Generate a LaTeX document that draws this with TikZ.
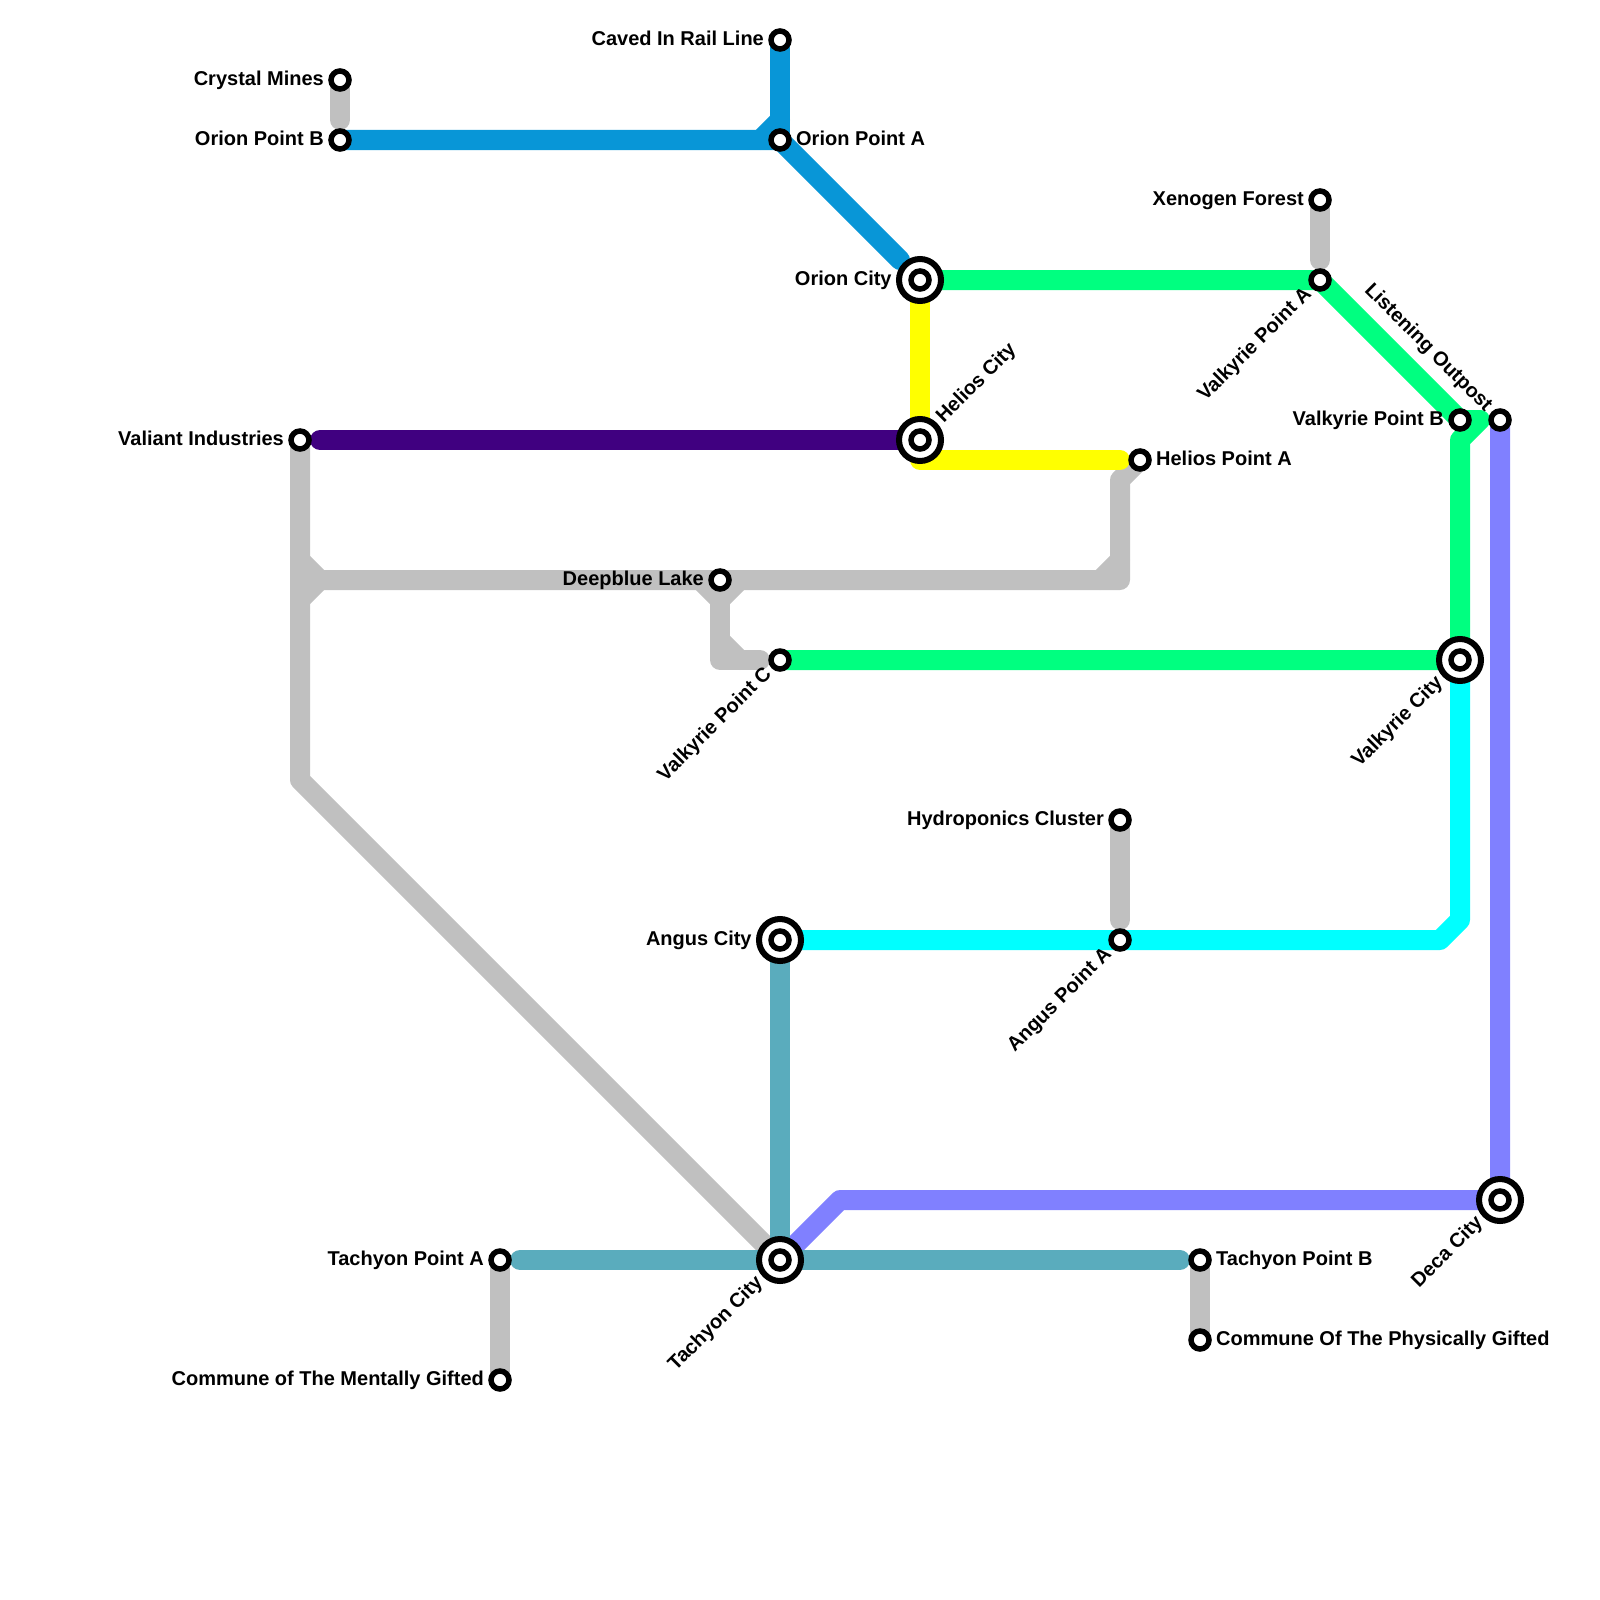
\documentclass[tikz,border=0pt]{standalone}
\usepackage{fontspec}
\setmainfont{Liberation Sans}
\usetikzlibrary{positioning,backgrounds}
\definecolor{lnBlue}{HTML}{0896D7}
\definecolor{lnGreen}{HTML}{00FF80}
\definecolor{lnViolet}{HTML}{400080}
\definecolor{lnTeal}{HTML}{5AACBD}
\definecolor{lnPeri}{HTML}{8080FF}
\definecolor{lnGrey}{HTML}{C0C0C0}
\definecolor{lnYellow}{HTML}{FFFF00}
\definecolor{lnCyan}{HTML}{00FFFF}
\begin{document}
\begin{tikzpicture}[x=10pt,y=-10pt,node distance=0pt,
  font=\fontsize{10}{11}\selectfont\bfseries,
  stn/.style={circle,draw=black,fill=white,line width=2.75pt,minimum size=9pt,inner sep=0pt},
  city/.style={circle,draw=black,fill=white,line width=3pt,minimum size=21pt,inner sep=0pt,label={[stn]center:}},
  txt/.style={inner sep=2pt,text=black,text height=7.2pt,text depth=2pt},
  ln/.style={line width=10pt,line cap=round,line join=round}]
  \useasboundingbox (0,0) rectangle (80,80);
  % stations
  \node[stn] (crystal) at (17,4) {};
  \node[stn] (orionb) at (17,7) {};
  \node[stn] (caved) at (39,2) {};
  \node[stn] (oriona) at (39,7) {};
  \node[city] (orion) at (46,14) {};
  \node[city] (helios) at (46,22) {};
  \node[stn] (heliosa) at (57,23) {};
  \node[stn] (valiant) at (15,22) {};
  \node[stn] (deepblue) at (36,29) {};
  \node[stn] (xenogen) at (66,10) {};
  \node[stn] (valka) at (66,14) {};
  \node[stn] (valkb) at (73,21) {};
  \node[stn] (listen) at (75,21) {};
  \node[stn] (valkc) at (39,33) {};
  \node[city] (valk) at (73,33) {};
  \node[stn] (hydro) at (56,41) {};
  \node[stn] (angusa) at (56,47) {};
  \node[city] (angus) at (39,47) {};
  \node[city] (tachyon) at (39,63) {};
  \node[city] (deca) at (75,60) {};
  \node[stn] (tacha) at (25,63) {};
  \node[stn] (tachb) at (60,63) {};
  \node[stn] (physic) at (60,67) {};
  \node[stn] (mental) at (25,69) {};
  % labels
  \node[txt,left=of crystal] (crystal-t) {Crystal Mines};
  \node[txt,left=of orionb] (orionb-t) {Orion Point B};
  \node[txt,left=of caved] (caved-t) {Caved In Rail Line};
  \node[txt,right=of oriona] (oriona-t) {Orion Point A};
  \node[txt,left=of orion] (orion-t) {Orion City};
  \node[txt,rotate=45,anchor=west] (helios-t) at (helios.north east) {Helios City};
  \node[txt,right=of heliosa] (heliosa-t) {Helios Point A};
  \node[txt,left=of valiant] (valiant-t) {Valiant Industries};
  \node[txt,left=of deepblue] (deepblue-t) {Deepblue Lake};
  \node[txt,left=of xenogen] (xenogen-t) {Xenogen Forest};
  \node[txt,rotate=45,anchor=east] (valka-t) at (valka.south west) {Valkyrie Point A};
  \node[txt,left=of valkb] (valkb-t) {Valkyrie Point B};
  \node[txt,rotate=-45,anchor=east] (listen-t) at (listen.north west) {Listening Outpost};
  \node[txt,rotate=45,anchor=east] (valkc-t) at (valkc.south west) {Valkyrie Point C};
  \node[txt,rotate=45,anchor=east] (valk-t) at (valk.south west) {Valkyrie City};
  \node[txt,left=of hydro] (hydro-t) {Hydroponics Cluster};
  \node[txt,rotate=45,anchor=east] (angusa-t) at (angusa.south west) {Angus Point A};
  \node[txt,left=of angus] (angus-t) {Angus City};
  \node[txt,rotate=45,anchor=east] (tachyon-t) at (tachyon.south west) {Tachyon City};
  \node[txt,rotate=45,anchor=east] (deca-t) at (deca.south west) {Deca City};
  \node[txt,left=of tacha] (tacha-t) {Tachyon Point A};
  \node[txt,right=of tachb] (tachb-t) {Tachyon Point B};
  \node[txt,right=of physic] (physic-t) {Commune Of The Physically Gifted};
  \node[txt,left=of mental] (mental-t) {Commune of The Mentally Gifted};
  \begin{pgfonlayer}{background}
    % grey lines
    \draw[ln,lnGrey] (crystal.center) -- ++(0,2);
    \draw[ln,lnGrey] (valiant.center) -- ++(0,17) -- (tachyon.center);
    \draw[ln,lnGrey] (15,28) -- (16,29) -- (15,30);
    \draw[ln,lnGrey] (16,29) -- (deepblue.center) -- ++(20,0) -- ++(0,-5) -- (heliosa.center);
    \draw[ln,lnGrey] (55,29) -- (56,28);
    \draw[ln,lnGrey] (35,29) -- (36,30) -- (37,29);
    \draw[ln,lnGrey] (deepblue.center) -- ++(0,4) -- ++(2,0);
    \draw[ln,lnGrey] (36,32) -- (37,33);
    \draw[ln,lnGrey] (xenogen.center) -- ++(0,3);
    \draw[ln,lnGrey] (hydro.center) -- ++(0,5);
    \draw[ln,lnGrey] (tachb.center) -- (physic.center);
    \draw[ln,lnGrey] (tacha.center) -- (mental.center);
    % coloured lines
    \draw[ln,lnPeri] (listen.center) -- (deca.center) -- ++(-33,0) -- (tachyon.center);
    \draw[ln,lnBlue] (orionb.center) -- (oriona.center) -- ++(6,6);
    \draw[ln,lnBlue] (caved.center) -- (oriona.center);
    \draw[ln,lnBlue] (38,7) -- (39,6);
    \draw[ln,lnYellow] (orion.center) -- (46,23) -- ++(10,0);
    \draw[ln,lnViolet] (16,22) -- (helios.center);
    \draw[ln,lnGreen] (orion.center) -- (valka.center) -- (valkb.center) -- ++(1,0) -- ++(-1,1) -- (valk.center) -- (valkc.center);
    \draw[ln,lnCyan] (angus.center) -- ++(33,0) -- ++(1,-1) -- (valk.center);
    \draw[ln,lnTeal] (angus.center) -- (tachyon.center);
    \draw[ln,lnTeal] (26,63) -- (59,63);
  \end{pgfonlayer}
\end{tikzpicture}
\end{document}
